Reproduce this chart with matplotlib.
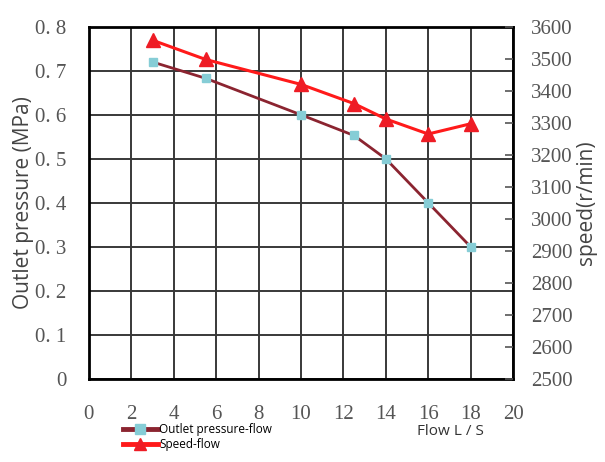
import numpy as np
import matplotlib.pyplot as plt
from matplotlib.lines import Line2D

# data
flow = [3, 5.5, 10, 12.5, 14, 16, 18]
pressure = [0.72, 0.683, 0.60, 0.553, 0.50, 0.40, 0.30]
speed = [3558, 3498, 3420, 3360, 3312, 3265, 3297]

x_ticks = list(range(0, 21, 2))
p_ticks = [0, 0.1, 0.2, 0.3, 0.4, 0.5, 0.6, 0.7, 0.8]
s_ticks = list(range(2500, 3601, 100))

fig = plt.figure(figsize=(6.05, 4.62), dpi=100)
ax = fig.add_axes([0.147, 0.180, 0.701, 0.762])

tick_font = dict(family='Liberation Serif', size=15, color='#555555')

ax.plot(flow, pressure, color='#8B2430', lw=2, marker='s', ms=5.5,
        mfc='#86CDD6', mec='#86CDD6', zorder=4, clip_on=False)

ax.set_xlim(0, 20)
ax.set_ylim(0, 0.8)
ax.set_xticks(x_ticks)
ax.set_yticks(p_ticks)
ax.set_xticklabels([str(t) for t in x_ticks], fontdict=tick_font)
ax.set_yticklabels(['0' if t == 0 else ('%.1f' % t).replace('.', '. ') for t in p_ticks],
                   fontdict=tick_font)
ax.tick_params(axis='both', length=0)
ax.tick_params(axis='x', pad=19)
ax.tick_params(axis='y', pad=16)
ax.grid(True, color='#383838', lw=1.4)
for s in ax.spines.values():
    s.set_linewidth(2)
    s.set_color('black')

ax.set_ylabel('Outlet pressure (MPa)', family='Open Sans', size=15, color='#444444', labelpad=1)

ax2 = ax.twinx()
ax2.plot(flow, speed, color='#FF1A1A', lw=2.2, marker='^', ms=10,
         mfc='#EE1C25', mec='#EE1C25', zorder=5, clip_on=False)
ax2.set_ylim(2500, 3600)
ax2.set_yticks(s_ticks)
ax2.set_yticklabels([str(t) for t in s_ticks], fontdict=tick_font)
ax2.tick_params(axis='y', direction='in', length=6, width=1.2, color='#555555', pad=13)
for s in ax2.spines.values():
    s.set_visible(False)
ax2.set_ylabel('speed(r/min)', family='Open Sans', size=15, color='#444444', labelpad=2)

fig.text(0.689, 0.058, 'Flow L / S', family='Open Sans', size=11, color='#333333')

handles = [
    Line2D([], [], color='#8B2430', lw=3.5, marker='s', ms=7, mfc='#86CDD6', mec='#86CDD6'),
    Line2D([], [], color='#FF1A1A', lw=3.5, marker='^', ms=9, mfc='#EE1C25', mec='#EE1C25'),
]
fig.legend(handles, ['Outlet pressure-flow', 'Speed-flow'], loc='upper left',
           bbox_to_anchor=(0.195, 0.094), frameon=False, prop=dict(family='Open Sans', size=8.5),
           handlelength=3.0, handletextpad=0.1, labelspacing=0.15, borderaxespad=0)

fig.savefig('out.png', dpi=100)
